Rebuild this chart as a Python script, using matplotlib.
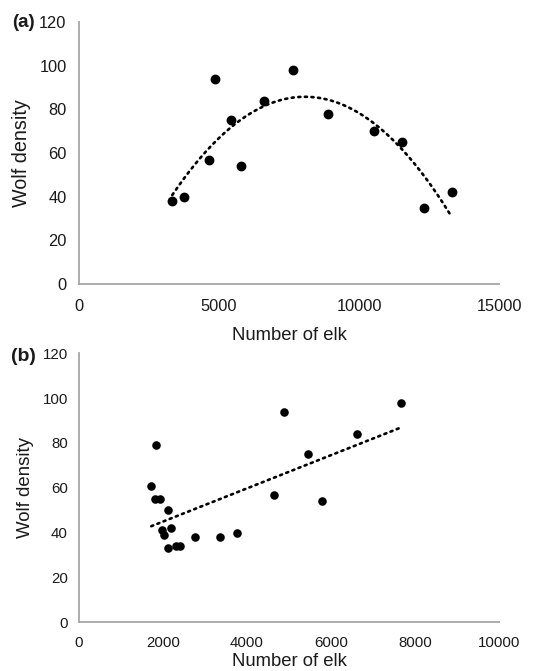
import numpy as np
import matplotlib
matplotlib.use('Agg')
import matplotlib.pyplot as plt

plt.rcParams['font.family'] = ['Liberation Sans', 'DejaVu Sans']

# ── DATA ─────────────────────────────────────────────────────────────────────
# (a) all years
elk_a = [3330, 3740, 4640, 4870, 5420, 5790, 6620, 7650, 8900, 10550, 11520, 12330, 13310]
wolf_a = [38, 40, 57, 94, 75, 54, 84, 98, 78, 70, 65, 35, 42]

# (b) years with fewer elk
elk_b = [1720, 1840, 1800, 1925, 2130, 1980, 2015, 2190, 2110, 2300, 2410,
         2750, 3350, 3750, 4640, 4880, 5440, 5790, 6630, 7670]
wolf_b = [61, 79, 55, 55, 50, 41, 39, 42, 33, 34, 34,
          38, 38, 40, 57, 94, 75, 54, 84, 98]

xticks_a = [0, 5000, 10000, 15000]
xticks_b = [0, 2000, 4000, 6000, 8000, 10000]
yticks = [0, 20, 40, 60, 80, 100, 120]

axis_grey = '#a6a6a6'
txt = '#1a1a1a'

fig = plt.figure(figsize=(5.51, 6.71), dpi=100)
ax1 = fig.add_axes([0.1434, 0.5768, 0.7623, 0.3904])
ax2 = fig.add_axes([0.1434, 0.0726, 0.7623, 0.4009])


def style(ax, xticks, xmax, fs_tick, ypad, xpad):
    for s in ['top', 'right']:
        ax.spines[s].set_visible(False)
    for s in ['left', 'bottom']:
        ax.spines[s].set_color(axis_grey)
        ax.spines[s].set_linewidth(1.3)
    ax.set_xlim(0, xmax)
    ax.set_ylim(0, 120)
    ax.set_xticks(xticks)
    ax.set_yticks(yticks)
    ax.tick_params(axis='both', length=0, labelsize=fs_tick, colors=txt)
    ax.tick_params(axis='y', pad=ypad)
    ax.tick_params(axis='x', pad=xpad)


# ── (a) quadratic trend ──────────────────────────────────────────────────────
ax1.scatter(elk_a, wolf_a, s=50, color='black', zorder=3, linewidths=0)
coef_a = np.polyfit(elk_a, wolf_a, 2)
xx = np.linspace(min(elk_a), max(elk_a), 200)
ax1.plot(xx, np.polyval(coef_a, xx), color='black', lw=1.9,
         linestyle=(0, (0.8, 1.7)), dash_capstyle='round', zorder=2)
style(ax1, xticks_a, 15000, 11.8, 9, 11)
ax1.set_xlabel('Number of elk', fontsize=13.3, color=txt, labelpad=9)
ax1.set_ylabel('Wolf density', fontsize=14.2, color=txt, labelpad=6)
fig.text(0.022, 0.967, '(a)', fontsize=13.5, fontweight='bold', color=txt, va='center')

# ── (b) linear trend ─────────────────────────────────────────────────────────
ax2.scatter(elk_b, wolf_b, s=38, color='black', zorder=3, linewidths=0)
coef_b = np.polyfit(elk_b, wolf_b, 1)
xb = np.linspace(min(elk_b), max(elk_b), 100)
ax2.plot(xb, np.polyval(coef_b, xb), color='black', lw=1.9,
         linestyle=(0, (0.8, 1.7)), dash_capstyle='round', zorder=2)
style(ax2, xticks_b, 10000, 10.8, 8, 10)
ax2.set_xlabel('Number of elk', fontsize=13.3, color=txt, labelpad=2)
ax2.set_ylabel('Wolf density', fontsize=13.4, color=txt, labelpad=6)
fig.text(0.020, 0.468, '(b)', fontsize=14, fontweight='bold', color=txt, va='center')

fig.savefig('out.png', dpi=100, facecolor='white')
